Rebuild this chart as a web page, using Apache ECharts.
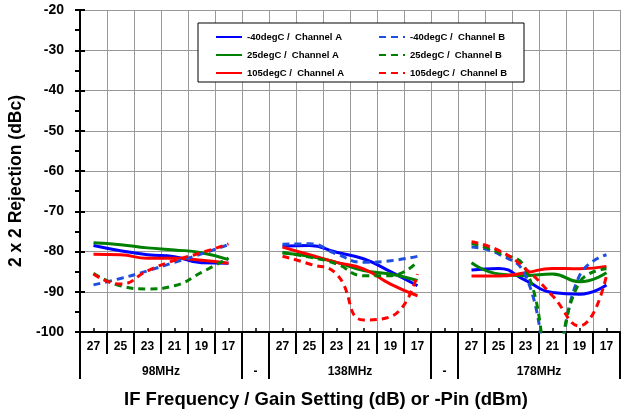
<!DOCTYPE html>
<html>
<head>
<meta charset="utf-8">
<script src="https://cdn.jsdelivr.net/npm/echarts@6/dist/echarts.min.js"></script>
<style>
  html, body { margin: 0; padding: 0; background: #fff; }
  #chart { width: 627px; height: 412px; }
</style>
</head>
<body>
<div id="chart"></div>
<script>
// gain setting categories, blanks separate the three IF frequencies
var categories = ['27','25','23','21','19','17','','27','25','23','21','19','17','','27','25','23','21','19','17'];
var groupLabels = ['98MHz', '-', '138MHz', '-', '178MHz'];
var groupCenters = [3, 6.5, 10, 13.5, 17];
var groupEdges = [0, 6, 7, 13, 14, 20];

// 2x2 rejection (dBc)
var m40A  = [-78.5,-79.8,-80.8,-81.3,-82.8,-82.9, null, -78.7,-78.5,-80.2,-81.8,-85.0,-88.5, null, -84.6,-84.2,-87.2,-90.2,-90.6,-88.3];
var m40B  = [-88.3,-86.7,-84.8,-82.7,-80.6,-78.3, null, -78.2,-78.1,-80.6,-82.7,-82.3,-81.2, null, -78.9,-80.6,-86.0,-110,-86.0,-80.8];
var p25A  = [-77.8,-78.3,-79.1,-79.6,-80.3,-82.0, null, -80.4,-81.2,-82.7,-84.7,-85.6,-87.2, null, -82.8,-85.6,-86.0,-85.6,-87.5,-85.3];
var p25B  = [-85.4,-88.5,-89.3,-88.5,-85.2,-81.6, null, -80.2,-81.4,-83.1,-86.0,-86.0,-82.5, null, -78.1,-80.2,-84.3,-108,-87.7,-84.3];
var p105A = [-80.7,-80.8,-81.7,-81.7,-82.2,-82.9, null, -78.9,-80.8,-82.7,-84.3,-88.1,-91.0, null, -86.1,-86.1,-85.3,-84.2,-84.3,-83.7];
var p105B = [-85.6,-88.1,-84.8,-82.2,-80.3,-78.1, null, -81.2,-83.1,-85.6,-97.0,-96.2,-85.6, null, -77.6,-79.7,-84.3,-91.0,-98.5,-86.0];

var FONT = '"Liberation Sans", Arial, sans-serif';
var BLUE = '#0000ff', BLUE2 = '#1f4fe0', GREEN = '#008000', RED = '#ff0000';

function line(name, data, color, dashed) {
  return {
    name: name,
    type: 'line',
    data: data,
    smooth: true,
    symbol: 'none',
    connectNulls: false,
    xAxisIndex: 0,
    yAxisIndex: 0,
    lineStyle: { color: color, width: 3, type: dashed ? [7, 5] : 'solid' },
    itemStyle: { color: color }
  };
}

var chart = echarts.init(document.getElementById('chart'), null, { renderer: 'canvas' });

var legendText = { fontFamily: FONT, fontWeight: 'bold', fontSize: 9.5, color: '#000' };
var legendBase = {
  orient: 'vertical', top: 27, z: 5,
  itemWidth: 26, itemHeight: 12, itemGap: 8,
  itemStyle: { opacity: 0 },
  textStyle: legendText
};

chart.setOption({
  animation: false,
  backgroundColor: '#fff',
  grid: { left: 80, right: 7, top: 10, bottom: 80, outerBoundsMode: 'none' },
  graphic: [{
    type: 'rect', z: 3,
    shape: { x: 198, y: 23, width: 326, height: 59 },
    style: { fill: '#fff', stroke: '#000', lineWidth: 1 }
  }],
  legend: [
    Object.assign({}, legendBase, {
      left: 210,
      data: ['-40degC /  Channel A', '25degC /  Channel A', '105degC /  Channel A']
    }),
    Object.assign({}, legendBase, {
      left: 373,
      data: ['-40degC /  Channel B', '25degC /  Channel B', '105degC /  Channel B']
    })
  ],
  xAxis: [{
    type: 'category',
    data: categories,
    boundaryGap: true,
    axisLine: { lineStyle: { color: '#000', width: 2 } },
    axisTick: { show: true, interval: 0, length: 22, lineStyle: { color: '#000', width: 2 } },
    axisLabel: { interval: 0, margin: 9, fontFamily: FONT, fontWeight: 'bold', fontSize: 12, color: '#000' },
    splitLine: { show: true, interval: 0, lineStyle: { color: '#999', width: 1 } }
  }, {
    type: 'category',
    data: categories,
    position: 'bottom',
    axisLine: { show: false },
    axisTick: { show: true, inside: true, alignWithLabel: true, interval: 0, length: 4, lineStyle: { color: '#000', width: 1.5 } },
    axisLabel: { show: false },
    splitLine: { show: false }
  }, {
    type: 'value',
    min: 0, max: 20,
    position: 'bottom',
    axisLine: { show: false },
    axisTick: { show: true, customValues: groupEdges, length: 47, lineStyle: { color: '#000', width: 2 } },
    axisLabel: {
      customValues: groupCenters, margin: 34,
      fontFamily: FONT, fontWeight: 'bold', fontSize: 12, color: '#000',
      formatter: function (v) {
        var i = groupCenters.indexOf(v);
        return i >= 0 ? groupLabels[i] : '';
      }
    },
    splitLine: { show: false },
    name: 'IF Frequency / Gain Setting (dB) or -Pin (dBm)',
    nameLocation: 'middle',
    nameGap: 58,
    nameTextStyle: { fontFamily: FONT, fontWeight: 'bold', fontSize: 18.5, color: '#000', padding: [0, 48, 0, 0] }
  }],
  yAxis: [{
    type: 'value',
    min: -100, max: -20, interval: 10,
    axisLine: { show: true, lineStyle: { color: '#000', width: 2 } },
    axisTick: { show: true, length: 5, lineStyle: { color: '#000', width: 2 } },
    minorTick: { show: true, splitNumber: 2, length: 5, lineStyle: { color: '#000', width: 2 } },
    axisLabel: { margin: 16, fontFamily: FONT, fontWeight: 'bold', fontSize: 14, color: '#000' },
    splitLine: { show: true, lineStyle: { color: '#999', width: 1 } },
    name: '2 x 2 Rejection (dBc)',
    nameLocation: 'middle',
    nameGap: 46,
    nameTextStyle: { fontFamily: FONT, fontWeight: 'bold', fontSize: 17.5, color: '#000', padding: [0, 20, 0, 0] }
  }, {
    type: 'value',
    min: -100, max: -20, interval: 10,
    position: 'left',
    axisLine: { show: false },
    axisTick: { show: true, inside: true, length: 5, lineStyle: { color: '#000', width: 2 } },
    minorTick: { show: false },
    axisLabel: { show: false },
    splitLine: { show: false }
  }],
  series: [
    line('-40degC /  Channel A', m40A, BLUE, false),
    line('25degC /  Channel A', p25A, GREEN, false),
    line('105degC /  Channel A', p105A, RED, false),
    line('-40degC /  Channel B', m40B, BLUE2, true),
    line('25degC /  Channel B', p25B, GREEN, true),
    line('105degC /  Channel B', p105B, RED, true)
  ]
});
</script>
</body>
</html>
